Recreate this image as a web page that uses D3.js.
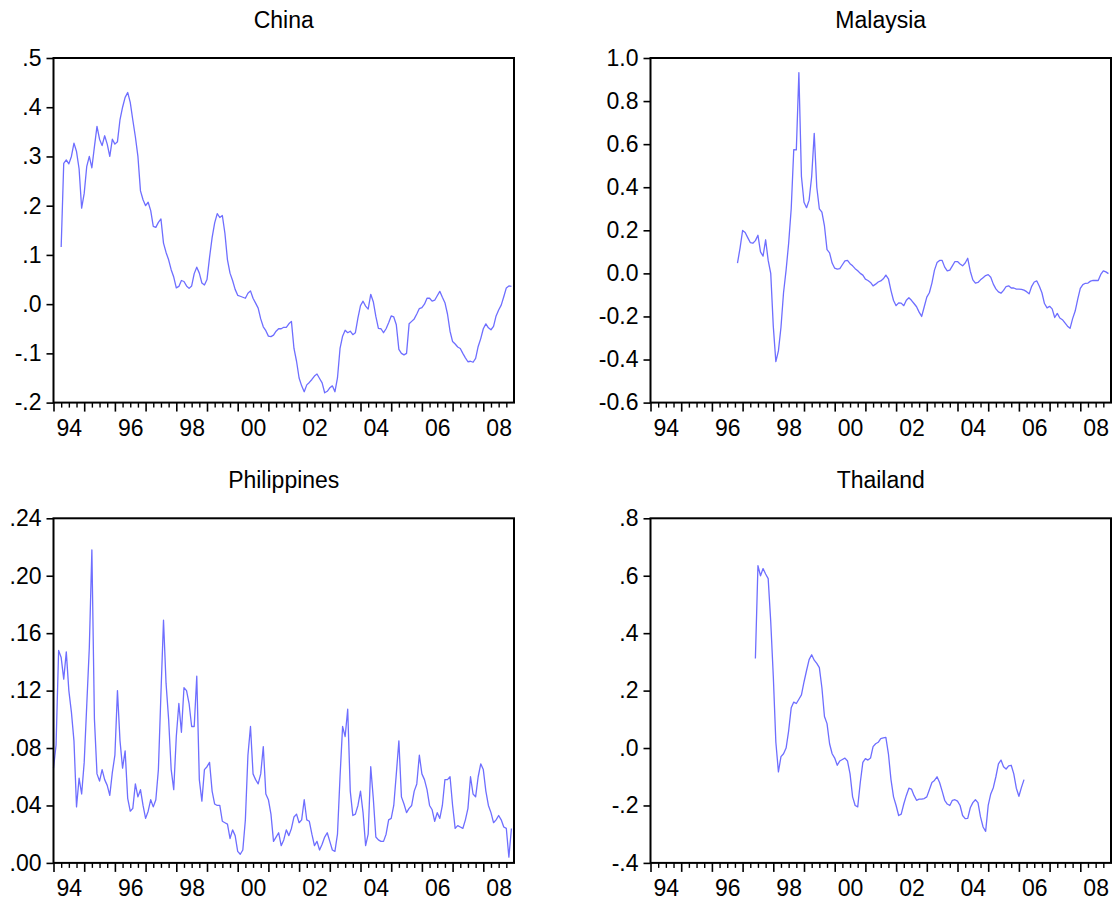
<!DOCTYPE html>
<html><head><meta charset="utf-8">
<script src="https://cdn.jsdelivr.net/npm/d3@7"></script>
<style>
html,body{margin:0;padding:0;background:#fff;}
svg{display:block;font-family:"Liberation Sans",Arial,sans-serif;}
</style></head><body>
<svg id="chart" width="1118" height="905"></svg>
<script>
// ---------- DATA (monthly, Jan 1994 .. Dec 2008; one row per year) ----------
const startYear = 1994;
const nMonths = 180;
const yearLabels = ["94","96","98","00","02","04","06","08"];
const titles = ["China","Malaysia","Philippines","Thailand"];

const china = [
 null,null,null,0.116,0.286,0.293,0.285,0.300,0.327,0.310,0.275,0.195,
 0.225,0.280,0.300,0.277,0.320,0.361,0.335,0.322,0.342,0.325,0.300,0.335,
 0.325,0.330,0.375,0.400,0.420,0.430,0.410,0.374,0.340,0.300,0.230,0.212,
 0.200,0.207,0.190,0.158,0.156,0.166,0.173,0.124,0.105,0.090,0.070,0.055,
 0.033,0.036,0.048,0.046,0.037,0.032,0.037,0.062,0.075,0.063,0.043,0.039,
 0.050,0.095,0.135,0.165,0.184,0.176,0.180,0.144,0.090,0.063,0.048,0.030,
 0.018,0.016,0.014,0.012,0.022,0.027,0.012,0.002,-0.008,-0.030,-0.046,-0.054,
 -0.065,-0.066,-0.063,-0.055,-0.050,-0.050,-0.047,-0.047,-0.040,-0.035,-0.090,-0.116,
 -0.150,-0.166,-0.178,-0.164,-0.159,-0.153,-0.146,-0.142,-0.151,-0.160,-0.180,-0.177,
 -0.170,-0.166,-0.178,-0.150,-0.090,-0.065,-0.053,-0.058,-0.055,-0.062,-0.058,-0.028,
 -0.003,0.006,-0.004,-0.010,0.020,0.005,-0.025,-0.049,-0.050,-0.058,-0.050,-0.038,
 -0.024,-0.026,-0.042,-0.092,-0.100,-0.103,-0.100,-0.040,-0.035,-0.030,-0.020,-0.009,
 -0.007,0.000,0.012,0.012,0.006,0.008,0.017,0.026,0.014,0.003,-0.020,-0.055,
 -0.076,-0.081,-0.087,-0.090,-0.100,-0.109,-0.117,-0.116,-0.118,-0.110,-0.086,-0.070,
 -0.050,-0.040,-0.048,-0.052,-0.045,-0.024,-0.012,-0.002,0.015,0.033,0.037,0.036
];

const malaysia = [
 null,null,null,null,null,null,null,null,null,null,null,null,
 null,null,null,null,null,null,null,null,null,null,null,null,
 null,null,null,null,null,null,null,null,null,null,0.048,0.117,
 0.199,0.190,0.166,0.143,0.140,0.152,0.177,0.100,0.080,0.156,0.060,0.000,
 -0.246,-0.410,-0.360,-0.250,-0.090,0.015,0.140,0.300,0.575,0.573,0.932,0.450,
 0.330,0.305,0.340,0.450,0.650,0.400,0.300,0.284,0.220,0.110,0.095,0.048,
 0.024,0.020,0.022,0.040,0.058,0.060,0.045,0.035,0.022,0.012,0.000,-0.008,
 -0.027,-0.033,-0.042,-0.058,-0.050,-0.040,-0.035,-0.025,-0.008,-0.025,-0.080,-0.126,
 -0.150,-0.137,-0.138,-0.150,-0.125,-0.113,-0.125,-0.140,-0.155,-0.180,-0.200,-0.155,
 -0.110,-0.090,-0.045,0.015,0.050,0.060,0.060,0.029,0.012,0.015,0.035,0.055,
 0.055,0.044,0.035,0.048,0.070,0.010,-0.030,-0.045,-0.042,-0.030,-0.020,-0.010,
 -0.006,-0.018,-0.050,-0.072,-0.086,-0.092,-0.079,-0.061,-0.058,-0.068,-0.068,-0.073,
 -0.073,-0.074,-0.078,-0.085,-0.095,-0.060,-0.040,-0.035,-0.060,-0.090,-0.140,-0.160,
 -0.153,-0.165,-0.205,-0.186,-0.207,-0.215,-0.230,-0.245,-0.255,-0.210,-0.175,-0.120,
 -0.070,-0.052,-0.046,-0.045,-0.036,-0.033,-0.033,-0.033,-0.005,0.012,0.007,-0.001
];

const philippines = [
 0.066,0.082,0.148,0.143,0.128,0.147,0.120,0.105,0.085,0.039,0.059,0.048,
 0.070,0.110,0.150,0.218,0.100,0.062,0.057,0.065,0.058,0.054,0.047,0.063,
 0.075,0.120,0.085,0.066,0.078,0.045,0.036,0.038,0.055,0.046,0.051,0.040,
 0.031,0.036,0.044,0.039,0.044,0.065,0.118,0.169,0.125,0.100,0.065,0.051,
 0.088,0.111,0.091,0.122,0.120,0.111,0.095,0.095,0.130,0.058,0.043,0.065,
 0.067,0.070,0.050,0.041,0.040,0.040,0.029,0.028,0.027,0.017,0.023,0.019,
 0.008,0.006,0.009,0.030,0.075,0.095,0.062,0.058,0.055,0.062,0.081,0.048,
 0.044,0.034,0.015,0.018,0.021,0.012,0.016,0.023,0.019,0.024,0.032,0.034,
 0.028,0.030,0.044,0.030,0.029,0.020,0.012,0.015,0.009,0.013,0.018,0.021,
 0.015,0.009,0.008,0.020,0.060,0.095,0.088,0.107,0.050,0.033,0.034,0.040,
 0.050,0.035,0.012,0.020,0.067,0.045,0.018,0.016,0.015,0.015,0.020,0.030,
 0.031,0.040,0.062,0.085,0.046,0.041,0.035,0.038,0.040,0.050,0.055,0.075,
 0.062,0.058,0.051,0.040,0.037,0.029,0.035,0.031,0.040,0.058,0.058,0.060,
 0.040,0.024,0.026,0.025,0.024,0.030,0.038,0.060,0.048,0.046,0.060,0.069,
 0.065,0.050,0.040,0.035,0.028,0.030,0.033,0.030,0.025,0.024,0.004,0.024
];

const thailand = [
 null,null,null,null,null,null,null,null,null,null,null,null,
 null,null,null,null,null,null,null,null,null,null,null,null,
 null,null,null,null,null,null,null,null,null,null,null,null,
 null,null,null,null,null,0.312,0.635,0.600,0.625,0.606,0.590,0.440,
 0.250,0.020,-0.083,-0.030,-0.020,0.000,0.060,0.140,0.160,0.155,0.170,0.185,
 0.230,0.270,0.308,0.325,0.306,0.295,0.280,0.210,0.110,0.085,0.015,-0.020,
 -0.035,-0.060,-0.045,-0.040,-0.035,-0.045,-0.090,-0.170,-0.200,-0.205,-0.120,-0.050,
 -0.037,-0.042,-0.035,0.005,0.015,0.020,0.033,0.035,0.037,-0.020,-0.110,-0.170,
 -0.200,-0.235,-0.230,-0.195,-0.165,-0.140,-0.143,-0.165,-0.182,-0.178,-0.178,-0.176,
 -0.170,-0.145,-0.120,-0.113,-0.100,-0.120,-0.150,-0.182,-0.195,-0.200,-0.182,-0.180,
 -0.185,-0.200,-0.235,-0.246,-0.245,-0.208,-0.190,-0.180,-0.190,-0.240,-0.275,-0.290,
 -0.200,-0.160,-0.138,-0.100,-0.055,-0.042,-0.065,-0.073,-0.062,-0.060,-0.090,-0.140,
 -0.168,-0.137,-0.110,null,null,null,null,null,null,null,null,null,
 null,null,null,null,null,null,null,null,null,null,null,null,
 null,null,null,null,null,null,null,null,null,null,null,null
];

const chinaTicks = [-0.2,-0.1,0,0.1,0.2,0.3,0.4,0.5];
const chinaTickLabels = ["-.2","-.1",".0",".1",".2",".3",".4",".5"];
const malaysiaTicks = [-0.6,-0.4,-0.2,0,0.2,0.4,0.6,0.8,1.0];
const malaysiaTickLabels = ["-0.6","-0.4","-0.2","0.0","0.2","0.4","0.6","0.8","1.0"];
const philippinesTicks = [0,0.04,0.08,0.12,0.16,0.20,0.24];
const philippinesTickLabels = [".00",".04",".08",".12",".16",".20",".24"];
const thailandTicks = [-0.4,-0.2,0,0.2,0.4,0.6,0.8];
const thailandTickLabels = ["-.4","-.2",".0",".2",".4",".6",".8"];

// ---------- LAYOUT ----------
const panels = [
  {title:titles[0], values:china, ticks:chinaTicks, labels:chinaTickLabels, left:53.5, top:58},
  {title:titles[1], values:malaysia, ticks:malaysiaTicks, labels:malaysiaTickLabels, left:650.5, top:58},
  {title:titles[2], values:philippines, ticks:philippinesTicks, labels:philippinesTickLabels, left:53.5, top:518.3},
  {title:titles[3], values:thailand, ticks:thailandTicks, labels:thailandTickLabels, left:650.5, top:518.3}
];
const W = 460.5, H = 344.6;
const lineColor = "#6e6eff";
const fontSize = 23;

const svg = d3.select("#chart");

panels.forEach(p => {
  const g = svg.append("g").attr("transform", `translate(${p.left},${p.top})`);
  const x = d3.scaleLinear().domain([0, nMonths]).range([0, W]);
  const y = d3.scaleLinear().domain([d3.min(p.ticks), d3.max(p.ticks)]).range([H, 0]);

  // y axis
  const ya = g.append("g").call(
    d3.axisLeft(y).tickValues(p.ticks)
      .tickFormat((d,i) => p.labels[i]).tickSize(7).tickPadding(5));
  ya.select(".domain").remove();
  ya.selectAll("line").attr("stroke","#000").attr("stroke-width",1.6);
  ya.selectAll("text").attr("font-size",fontSize).attr("font-family","Liberation Sans, Arial, sans-serif").attr("fill","#000");

  // x axis minor ticks (quarters)
  const minor = d3.range(0, nMonths, 3).filter(m => m % 12 !== 0);
  const xmin = g.append("g").attr("transform",`translate(0,${H})`)
    .call(d3.axisBottom(x).tickValues(minor).tickFormat("").tickSize(5));
  xmin.select(".domain").remove();
  xmin.selectAll("line").attr("stroke","#000").attr("stroke-width",1.4);

  // x axis major ticks (years)
  const major = d3.range(0, nMonths, 12);
  const xmaj = g.append("g").attr("transform",`translate(0,${H})`)
    .call(d3.axisBottom(x).tickValues(major).tickFormat("").tickSize(9));
  xmaj.select(".domain").remove();
  xmaj.selectAll("line").attr("stroke","#000").attr("stroke-width",1.6);

  // x labels centered in every other year
  const labPos = yearLabels.map((l,i) => i*24 + 6);
  const xlab = g.append("g").attr("transform",`translate(0,${H})`)
    .call(d3.axisBottom(x).tickValues(labPos).tickFormat((d,i) => yearLabels[i]).tickSize(0).tickPadding(17));
  xlab.select(".domain").remove();
  xlab.selectAll("text").attr("font-size",fontSize).attr("font-family","Liberation Sans, Arial, sans-serif").attr("fill","#000");

  // series line
  const line = d3.line()
    .defined(d => d != null)
    .x((d,i) => x(i))
    .y(d => y(d));
  g.append("path").datum(p.values)
    .attr("d", line)
    .attr("fill","none")
    .attr("stroke", lineColor)
    .attr("stroke-width",1.3)
    .attr("stroke-linejoin","round");

  // frame
  g.append("rect").attr("x",0).attr("y",0).attr("width",W).attr("height",H)
    .attr("fill","none").attr("stroke","#000").attr("stroke-width",2);

  // title
  g.append("text").attr("x", W/2).attr("y", -30)
    .attr("text-anchor","middle").attr("font-size",fontSize)
    .attr("font-family","Liberation Sans, Arial, sans-serif")
    .text(p.title);
});
</script>
</body></html>
